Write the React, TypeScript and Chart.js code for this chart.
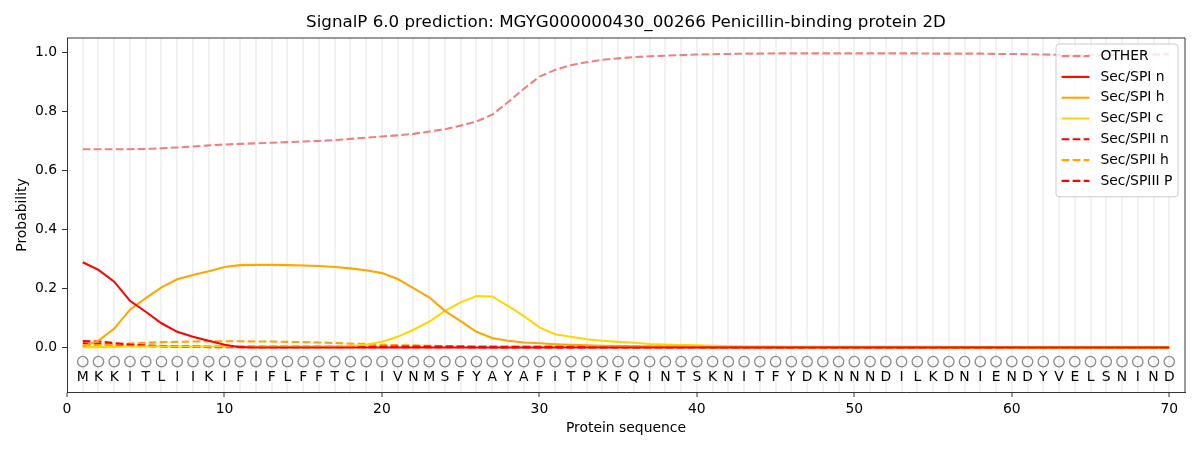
import { useEffect, useRef } from 'react';
import { Chart, registerables } from 'chart.js';

Chart.register(...registerables);

const title = 'SignalP 6.0 prediction: MGYG000000430_00266 Penicillin-binding protein 2D';
const sequence = 'MKKITLIIKIFIFLFFTCIIVNMSFYAYAFITPKFQINTSKNITFYDKNNNDILKDNIENDYVELSNIND'.split('');
const positions = sequence.map((_, i) => i + 1);

const other = [
  0.673, 0.673, 0.673, 0.673, 0.674, 0.676, 0.679, 0.682, 0.686, 0.689,
  0.691, 0.693, 0.695, 0.697, 0.699, 0.701, 0.704, 0.708, 0.712, 0.716,
  0.720, 0.725, 0.733, 0.741, 0.753, 0.767, 0.790, 0.832, 0.877, 0.919,
  0.942, 0.958, 0.968, 0.976, 0.981, 0.985, 0.988, 0.990, 0.992, 0.994,
  0.995, 0.996, 0.997, 0.997, 0.998, 0.998, 0.998, 0.998, 0.998, 0.998,
  0.998, 0.998, 0.998, 0.998, 0.997, 0.997, 0.997, 0.997, 0.996, 0.996,
  0.995, 0.994, 0.993, 0.992, 0.992, 0.992, 0.992, 0.993, 0.994, 0.995,
];
const spiN = [
  0.290, 0.264, 0.224, 0.159, 0.122, 0.083, 0.054, 0.037, 0.024, 0.010,
  0.002, 0.001, 0.001, 0.001, 0.001, 0.001, 0.001, 0.001, 0.001, 0.001,
  0.001, 0.001, 0.001, 0.001, 0.001, 0.001, 0.001, 0.001, 0.001, 0.001,
  0.001, 0.001, 0.001, 0.001, 0.001, 0.001, 0.001, 0.001, 0.001, 0.001,
  0.001, 0.001, 0.001, 0.001, 0.001, 0.001, 0.001, 0.001, 0.001, 0.001,
  0.001, 0.001, 0.001, 0.001, 0.001, 0.001, 0.001, 0.001, 0.001, 0.001,
  0.001, 0.001, 0.001, 0.001, 0.001, 0.001, 0.001, 0.001, 0.001, 0.001,
];
const spiH = [
  0.004, 0.024, 0.065, 0.129, 0.168, 0.205, 0.232, 0.247, 0.259, 0.274,
  0.280, 0.281, 0.281, 0.280, 0.279, 0.277, 0.274, 0.269, 0.263, 0.253,
  0.233, 0.202, 0.171, 0.125, 0.090, 0.054, 0.033, 0.024, 0.018, 0.015,
  0.012, 0.010, 0.008, 0.007, 0.006, 0.005, 0.004, 0.004, 0.003, 0.003,
  0.002, 0.002, 0.002, 0.002, 0.002, 0.002, 0.002, 0.002, 0.002, 0.002,
  0.002, 0.002, 0.002, 0.002, 0.002, 0.002, 0.002, 0.002, 0.002, 0.002,
  0.001, 0.001, 0.001, 0.001, 0.001, 0.001, 0.001, 0.001, 0.001, 0.001,
];
const spiC = [
  0.002, 0.002, 0.003, 0.004, 0.004, 0.004, 0.004, 0.004, 0.004, 0.004,
  0.004, 0.004, 0.004, 0.004, 0.004, 0.004, 0.005, 0.006, 0.010, 0.020,
  0.037, 0.061, 0.088, 0.125, 0.154, 0.175, 0.174, 0.142, 0.108, 0.069,
  0.046, 0.037, 0.029, 0.024, 0.020, 0.017, 0.013, 0.011, 0.009, 0.008,
  0.007, 0.006, 0.005, 0.005, 0.004, 0.003, 0.003, 0.003, 0.003, 0.003,
  0.003, 0.003, 0.003, 0.003, 0.003, 0.002, 0.002, 0.002, 0.002, 0.002,
  0.002, 0.002, 0.002, 0.002, 0.002, 0.002, 0.002, 0.002, 0.002, 0.002,
];
const spiiN = [
  0.023, 0.021, 0.016, 0.011, 0.008, 0.006, 0.005, 0.005, 0.004, 0.004,
  0.004, 0.004, 0.004, 0.004, 0.004, 0.004, 0.004, 0.004, 0.004, 0.004,
  0.004, 0.004, 0.004, 0.004, 0.004, 0.003, 0.003, 0.003, 0.003, 0.003,
  0.003, 0.003, 0.003, 0.003, 0.003, 0.003, 0.003, 0.003, 0.003, 0.003,
  0.002, 0.002, 0.002, 0.002, 0.002, 0.002, 0.002, 0.002, 0.002, 0.002,
  0.002, 0.002, 0.002, 0.002, 0.002, 0.002, 0.002, 0.002, 0.002, 0.002,
  0.002, 0.002, 0.002, 0.002, 0.002, 0.002, 0.002, 0.002, 0.002, 0.002,
];
const spiiH = [
  0.008, 0.009, 0.011, 0.014, 0.017, 0.019, 0.020, 0.021, 0.022, 0.022,
  0.022, 0.021, 0.021, 0.020, 0.019, 0.018, 0.016, 0.014, 0.013, 0.010,
  0.009, 0.008, 0.007, 0.006, 0.005, 0.004, 0.004, 0.003, 0.003, 0.003,
  0.003, 0.003, 0.003, 0.003, 0.003, 0.003, 0.003, 0.003, 0.003, 0.003,
  0.002, 0.002, 0.002, 0.002, 0.002, 0.002, 0.002, 0.002, 0.002, 0.002,
  0.002, 0.002, 0.002, 0.002, 0.002, 0.002, 0.002, 0.002, 0.002, 0.002,
  0.002, 0.002, 0.002, 0.002, 0.002, 0.002, 0.002, 0.002, 0.002, 0.002,
];
const spiiiP = [
  0.015, 0.013, 0.010, 0.007, 0.005, 0.004, 0.003, 0.003, 0.002, 0.002,
  0.002, 0.002, 0.002, 0.002, 0.002, 0.002, 0.002, 0.002, 0.002, 0.002,
  0.002, 0.002, 0.002, 0.002, 0.002, 0.001, 0.001, 0.001, 0.001, 0.001,
  0.001, 0.001, 0.001, 0.001, 0.001, 0.001, 0.001, 0.001, 0.001, 0.001,
  0.001, 0.001, 0.001, 0.001, 0.001, 0.001, 0.001, 0.001, 0.001, 0.001,
  0.001, 0.001, 0.001, 0.001, 0.001, 0.001, 0.001, 0.001, 0.001, 0.001,
  0.001, 0.001, 0.001, 0.001, 0.001, 0.001, 0.001, 0.001, 0.001, 0.001,
];

const xTicks = [0, 10, 20, 30, 40, 50, 60, 70];
const yTicks = [0, 0.2, 0.4, 0.6, 0.8, 1.0];

const circleY = -0.047;
const letterY = -0.1;
const FONT = '"DejaVu Sans", sans-serif';
const LW = 2.08;
const DASH = [7.7, 3.3];

const toPoints = (vals: number[]) => vals.map((v, i) => ({ x: positions[i], y: v }));

const series = [
  { label: 'OTHER', data: other, color: '#f08080', dash: DASH },
  { label: 'Sec/SPI n', data: spiN, color: '#ff0000', dash: [] },
  { label: 'Sec/SPI h', data: spiH, color: '#ffa500', dash: [] },
  { label: 'Sec/SPI c', data: spiC, color: '#ffd700', dash: [] },
  { label: 'Sec/SPII n', data: spiiN, color: '#ff0000', dash: DASH },
  { label: 'Sec/SPII h', data: spiiH, color: '#ffa500', dash: DASH },
  { label: 'Sec/SPIII P', data: spiiiP, color: '#ff0000', dash: DASH },
];

const decor = {
  id: 'decor',
  afterDatasetsDraw(chart: any) {
    const { ctx, chartArea: a, scales } = chart;
    ctx.save();
    // top and right spines
    ctx.strokeStyle = '#000';
    ctx.lineWidth = 0.8;
    ctx.beginPath();
    ctx.moveTo(a.left, a.top);
    ctx.lineTo(a.right, a.top);
    ctx.lineTo(a.right, a.bottom);
    ctx.stroke();
    // residue letters
    ctx.fillStyle = '#000';
    ctx.font = `13.9px ${FONT}`;
    ctx.textAlign = 'center';
    ctx.textBaseline = 'middle';
    const ly = scales.y.getPixelForValue(letterY);
    sequence.forEach((s, i) => {
      ctx.fillText(s, scales.x.getPixelForValue(positions[i]), ly);
    });
    ctx.restore();
  },
  afterDraw(chart: any) {
    const { ctx, chartArea: a } = chart;
    ctx.save();
    ctx.fillStyle = '#000';
    ctx.textAlign = 'center';
    ctx.textBaseline = 'middle';
    ctx.font = `16.7px ${FONT}`;
    ctx.fillText(title, (a.left + a.right) / 2, 23);
    ctx.font = `13.9px ${FONT}`;
    ctx.fillText('Protein sequence', (a.left + a.right) / 2, 428);
    ctx.save();
    ctx.translate(22, (a.top + a.bottom) / 2);
    ctx.rotate(-Math.PI / 2);
    ctx.fillText('Probability', 0, 0);
    ctx.restore();

    // legend inside the plot, upper right
    const rowH = 20.8;
    const pad = 5.6;
    const handle = 27.8;
    const gap = 11;
    let maxW = 0;
    series.forEach((s) => { maxW = Math.max(maxW, ctx.measureText(s.label).width); });
    const w = pad * 2 + handle + gap + maxW;
    const h = pad * 2 + rowH * series.length - 4;
    const x0 = a.right - 7 - w;
    const y0 = a.top + 6;
    ctx.beginPath();
    ctx.roundRect(x0, y0, w, h, 3);
    ctx.fillStyle = 'rgba(255,255,255,0.8)';
    ctx.fill();
    ctx.strokeStyle = '#cccccc';
    ctx.lineWidth = 1;
    ctx.stroke();
    ctx.textAlign = 'left';
    series.forEach((s, i) => {
      const cy = y0 + pad + 6.5 + i * rowH;
      ctx.strokeStyle = s.color;
      ctx.lineWidth = LW;
      ctx.setLineDash(s.dash);
      ctx.beginPath();
      ctx.moveTo(x0 + pad, cy);
      ctx.lineTo(x0 + pad + handle, cy);
      ctx.stroke();
      ctx.setLineDash([]);
      ctx.fillStyle = '#000';
      ctx.fillText(s.label, x0 + pad + handle + gap, cy);
    });
    ctx.restore();
  },
};

export default function App() {
  const canvasRef = useRef<HTMLCanvasElement | null>(null);
  const chartRef = useRef<Chart | null>(null);

  useEffect(() => {
    if (!canvasRef.current) return;
    document.body.style.margin = '0';
    if (chartRef.current) chartRef.current.destroy();

    const datasets: any[] = series.map((s) => ({
      label: s.label,
      data: toPoints(s.data),
      borderColor: s.color,
      backgroundColor: s.color,
      borderDash: s.dash,
      borderWidth: LW,
      pointRadius: 0,
      tension: 0,
      fill: false,
    }));
    datasets.push({
      label: 'residues',
      data: positions.map((p) => ({ x: p, y: circleY })),
      showLine: false,
      pointRadius: 5.2,
      pointHoverRadius: 5.2,
      pointBorderWidth: 1.3,
      pointBorderColor: '#8a8a8a',
      pointBackgroundColor: 'rgba(0,0,0,0)',
    });

    chartRef.current = new Chart(canvasRef.current, {
      type: 'line',
      data: { datasets },
      plugins: [decor],
      options: {
        responsive: true,
        maintainAspectRatio: false,
        animation: false,
        layout: { padding: { top: 38, right: 15, left: 0, bottom: 0 } },
        plugins: {
          legend: { display: false },
          title: { display: false },
          tooltip: { enabled: false },
        },
        scales: {
          x: {
            type: 'linear',
            min: 0,
            max: 71,
            afterFit: (scale: any) => { scale.height = 58; },
            afterBuildTicks: (scale: any) => {
              scale.ticks = [0, ...positions, 71].map((v) => ({ value: v }));
            },
            ticks: {
              autoSkip: false,
              maxRotation: 0,
              padding: 4,
              color: '#000',
              font: { family: FONT, size: 13.9 },
              callback: (v: any) => (xTicks.includes(v) ? String(v) : ''),
            },
            grid: {
              color: (c: any) => {
                const v = c.tick?.value;
                return v >= 1 && v <= 70 ? 'rgba(0,0,0,0.055)' : 'rgba(0,0,0,0)';
              },
              lineWidth: 2,
              tickColor: (c: any) => (xTicks.includes(c.tick?.value) ? '#000' : 'rgba(0,0,0,0)'),
              tickWidth: 0.8,
              tickLength: 5,
            },
            border: { color: '#000', width: 0.8 },
          },
          y: {
            type: 'linear',
            min: -0.15,
            max: 1.05,
            afterFit: (scale: any) => { scale.width = 67; },
            afterBuildTicks: (scale: any) => {
              scale.ticks = yTicks.map((v) => ({ value: v }));
            },
            ticks: {
              padding: 5,
              color: '#000',
              font: { family: FONT, size: 13.9 },
              callback: (v: any) => Number(v).toFixed(1),
            },
            grid: {
              drawOnChartArea: false,
              tickColor: '#000',
              tickWidth: 0.8,
              tickLength: 5,
            },
            border: { color: '#000', width: 0.8 },
          },
        },
      },
    });

    return () => {
      chartRef.current?.destroy();
      chartRef.current = null;
    };
  }, []);

  return (
    <div style={{ position: 'relative', width: 1200, height: 450 }}>
      <canvas ref={canvasRef} />
    </div>
  );
}
